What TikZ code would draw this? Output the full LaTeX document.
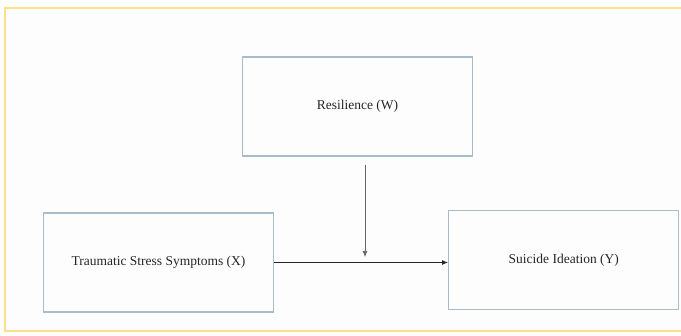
\documentclass[tikz,border=0pt]{standalone}
\usepackage{fontspec}
\setmainfont{Liberation Serif}
\usetikzlibrary{arrows.meta,positioning}
\definecolor{boxline}{HTML}{A9BCCB}
\definecolor{frameline}{HTML}{FBE08A}
\definecolor{pagebg}{HTML}{FDFDFD}

\begin{document}
\begin{tikzpicture}[x=1pt, y=-1pt,
  v/.style={draw=boxline, line width=1.3pt, minimum width=230pt, minimum height=99pt, align=center, text=black!85, font=\fontsize{13.5}{16}\selectfont},
  a/.style={-{Latex[length=6pt,width=5pt]}}
]
\fill[pagebg] (0,0) rectangle (681,336);
\useasboundingbox (0,0) rectangle (681,336);
\draw[frameline, line width=1.2pt] (681,8) -- (5,8) -- (5,331) -- (681,331);

\node[v] (X) at (158.5,262.5) {Traumatic Stress Symptoms (X)};
\node[v, right=174pt of X, yshift=2.5pt] (Y) {Suicide Ideation (Y)};
\node[v] (W) at (357.5,106.5) {Resilience (W)};

\coordinate (mtop) at (365,165);
\coordinate (mbot) at (365,257);

\draw[a, line width=1.1pt, black!85] (X.east) -- (X.east -| Y.west);
\draw[a, line width=0.7pt, black!60] (mtop) -- (mbot);
\end{tikzpicture}
\end{document}
